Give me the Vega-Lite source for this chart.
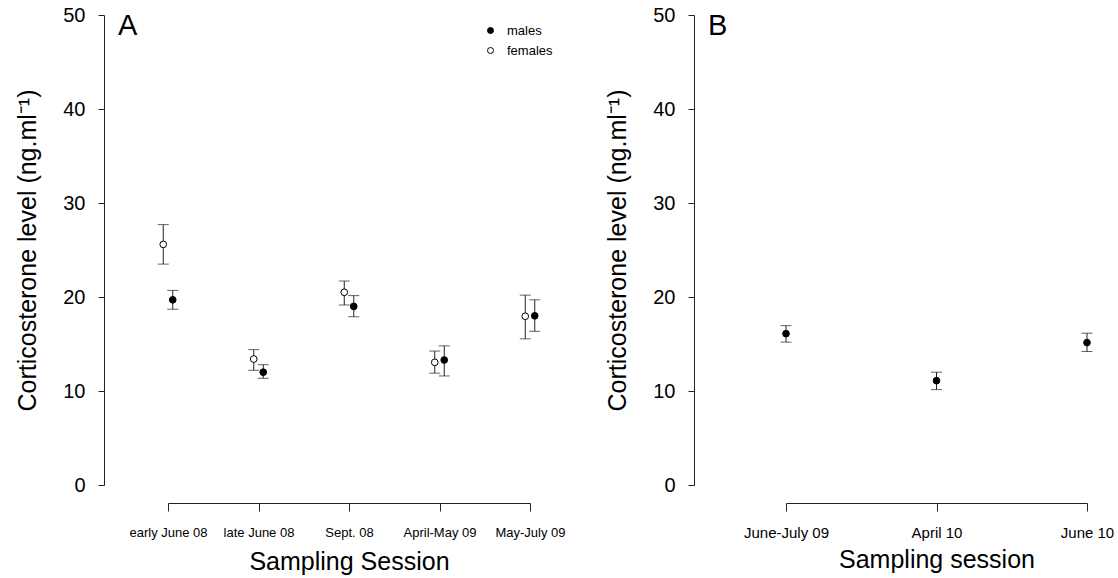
{
  "$schema": "https://vega.github.io/schema/vega-lite/v6.json",
  "background": "white",
  "padding": {"left": 15, "top": 5, "right": 5, "bottom": 2},
  "spacing": 39,
  "config": {
    "view": {"stroke": null},
    "font": "Liberation Sans",
    "axis": {
      "grid": false,
      "domainColor": "#222",
      "tickColor": "#222",
      "labelColor": "black",
      "titleColor": "black",
      "titleFontWeight": "normal",
      "labelFont": "Liberation Sans",
      "titleFont": "Liberation Sans"
    },
    "axisY": {"tickSize": 6, "labelPadding": 13, "labelFontSize": 20, "titleFontSize": 25, "titlePadding": 22}
  },
  "hconcat": [
    {
      "width": 362,
      "height": 470,
      "data": {
        "values": [
          {"session": "early June 08", "sex": "females", "mean": 25.6, "lo": 23.5, "hi": 27.7},
          {"session": "early June 08", "sex": "males", "mean": 19.7, "lo": 18.7, "hi": 20.7},
          {"session": "late June 08", "sex": "females", "mean": 13.4, "lo": 12.2, "hi": 14.4},
          {"session": "late June 08", "sex": "males", "mean": 12.0, "lo": 11.35, "hi": 12.8},
          {"session": "Sept. 08", "sex": "females", "mean": 20.5, "lo": 19.15, "hi": 21.7},
          {"session": "Sept. 08", "sex": "males", "mean": 19.0, "lo": 17.9, "hi": 20.15},
          {"session": "April-May 09", "sex": "females", "mean": 13.05, "lo": 11.9, "hi": 14.25},
          {"session": "April-May 09", "sex": "males", "mean": 13.3, "lo": 11.6, "hi": 14.8},
          {"session": "May-July 09", "sex": "females", "mean": 17.95, "lo": 15.55, "hi": 20.2},
          {"session": "May-July 09", "sex": "males", "mean": 18.0, "lo": 16.35, "hi": 19.7}
        ]
      },
      "encoding": {
        "x": {
          "field": "session", "type": "nominal",
          "sort": ["early June 08", "late June 08", "Sept. 08", "April-May 09", "May-July 09"],
          "scale": {"type": "point", "padding": 0},
          "axis": {"title": "Sampling Session", "labelAngle": 0, "offset": 18, "tickSize": 8, "labelPadding": 15, "labelFontSize": 13, "titleFontSize": 25, "titlePadding": 10, "labelOverlap": false, "labelFlush": false}
        }
      },
      "layer": [
        {
          "mark": {"type": "rule", "color": "#222", "strokeWidth": 1},
          "encoding": {
            "xOffset": {"field": "sex", "type": "nominal", "scale": {"type": "point", "domain": ["females", "males"], "range": [-9.5, 9.5]}},
            "y": {"field": "lo", "type": "quantitative", "scale": {"domain": [0, 50]}, "title": "Corticosterone level (ng.ml⁻¹)", "axis": {"offset": 64, "values": [0, 10, 20, 30, 40, 50]}},
            "y2": {"field": "hi"}
          }
        },
        {
          "mark": {"type": "tick", "orient": "horizontal", "size": 11, "thickness": 1, "color": "#222"},
          "encoding": {
            "xOffset": {"field": "sex", "type": "nominal", "scale": {"type": "point", "domain": ["females", "males"], "range": [-9.5, 9.5]}},
            "y": {"field": "lo", "type": "quantitative", "title": "Corticosterone level (ng.ml⁻¹)", "axis": {"offset": 64, "values": [0, 10, 20, 30, 40, 50]}}
          }
        },
        {
          "mark": {"type": "tick", "orient": "horizontal", "size": 11, "thickness": 1, "color": "#222"},
          "encoding": {
            "xOffset": {"field": "sex", "type": "nominal", "scale": {"type": "point", "domain": ["females", "males"], "range": [-9.5, 9.5]}},
            "y": {"field": "hi", "type": "quantitative", "title": "Corticosterone level (ng.ml⁻¹)", "axis": {"offset": 64, "values": [0, 10, 20, 30, 40, 50]}}
          }
        },
        {
          "mark": {"type": "point", "shape": "circle", "filled": true, "size": 45, "stroke": "black", "strokeWidth": 1, "opacity": 1},
          "encoding": {
            "xOffset": {"field": "sex", "type": "nominal", "scale": {"type": "point", "domain": ["females", "males"], "range": [-9.5, 9.5]}},
            "y": {"field": "mean", "type": "quantitative", "title": "Corticosterone level (ng.ml⁻¹)", "axis": {"offset": 64, "values": [0, 10, 20, 30, 40, 50]}},
            "fill": {"field": "sex", "type": "nominal",
              "scale": {"domain": ["males", "females"], "range": ["black", "white"]},
              "legend": {"orient": "none", "legendX": 316, "legendY": 9, "title": null, "symbolType": "circle", "symbolStrokeColor": "black", "symbolStrokeWidth": 1, "symbolSize": 36, "labelFontSize": 13, "labelOffset": 10, "rowPadding": 6, "labelFont": "Liberation Sans"}
            }
          }
        },
        {
          "data": {"values": [{"label": "A"}]},
          "mark": {"type": "text", "fontSize": 29, "align": "left", "baseline": "alphabetic", "dx": -50, "dy": 20, "color": "black"},
          "encoding": {
            "x": {"datum": "early June 08"},
            "y": {"datum": 50, "type": "quantitative", "title": "Corticosterone level (ng.ml⁻¹)", "axis": {"offset": 64, "values": [0, 10, 20, 30, 40, 50]}},
            "text": {"field": "label"}
          }
        }
      ]
    },
    {
      "width": 301,
      "height": 470,
      "data": {
        "values": [
          {"session": "June-July 09", "mean": 16.1, "lo": 15.2, "hi": 16.95},
          {"session": "April 10", "mean": 11.1, "lo": 10.15, "hi": 12.0},
          {"session": "June 10", "mean": 15.15, "lo": 14.2, "hi": 16.15}
        ]
      },
      "encoding": {
        "x": {
          "field": "session", "type": "nominal",
          "sort": ["June-July 09", "April 10", "June 10"],
          "scale": {"type": "point", "padding": 0},
          "axis": {"title": "Sampling session", "labelAngle": 0, "offset": 18, "tickSize": 8, "labelPadding": 14, "labelFontSize": 15, "titleFontSize": 25, "titlePadding": 7, "labelOverlap": false, "labelFlush": false}
        }
      },
      "layer": [
        {
          "mark": {"type": "rule", "color": "#222", "strokeWidth": 1},
          "encoding": {
            "y": {"field": "lo", "type": "quantitative", "scale": {"domain": [0, 50]}, "title": "Corticosterone level (ng.ml⁻¹)", "axis": {"offset": 92, "values": [0, 10, 20, 30, 40, 50]}},
            "y2": {"field": "hi"}
          }
        },
        {
          "mark": {"type": "tick", "orient": "horizontal", "size": 11, "thickness": 1, "color": "#222"},
          "encoding": {"y": {"field": "lo", "type": "quantitative", "title": "Corticosterone level (ng.ml⁻¹)", "axis": {"offset": 92, "values": [0, 10, 20, 30, 40, 50]}}}
        },
        {
          "mark": {"type": "tick", "orient": "horizontal", "size": 11, "thickness": 1, "color": "#222"},
          "encoding": {"y": {"field": "hi", "type": "quantitative", "title": "Corticosterone level (ng.ml⁻¹)", "axis": {"offset": 92, "values": [0, 10, 20, 30, 40, 50]}}}
        },
        {
          "mark": {"type": "point", "shape": "circle", "filled": true, "size": 45, "fill": "black", "stroke": "black", "strokeWidth": 1, "opacity": 1},
          "encoding": {"y": {"field": "mean", "type": "quantitative", "title": "Corticosterone level (ng.ml⁻¹)", "axis": {"offset": 92, "values": [0, 10, 20, 30, 40, 50]}}}
        },
        {
          "data": {"values": [{"label": "B"}]},
          "mark": {"type": "text", "fontSize": 29, "align": "left", "baseline": "alphabetic", "dx": -78, "dy": 20, "color": "black"},
          "encoding": {
            "x": {"datum": "June-July 09"},
            "y": {"datum": 50, "type": "quantitative", "title": "Corticosterone level (ng.ml⁻¹)", "axis": {"offset": 92, "values": [0, 10, 20, 30, 40, 50]}},
            "text": {"field": "label"}
          }
        }
      ]
    }
  ]
}
